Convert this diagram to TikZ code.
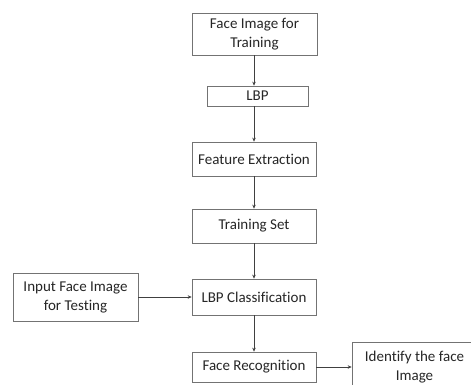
\documentclass[tikz,border=0pt]{standalone}
\usepackage{fontspec}
\setmainfont{Carlito}[Ligatures=NoCommon]
\usetikzlibrary{arrows.meta}
\begin{document}
\begin{tikzpicture}[x=1pt,y=-1pt,
  box/.style={draw=black!55,line width=0.7pt,fill=white,align=center,inner sep=1pt,text=black!85,font=\fontsize{15}{19}\selectfont},
  conn/.style={draw=black!75,line width=0.7pt,-{Stealth[length=4pt,width=3.5pt]}}]
\useasboundingbox (0,0) rectangle (471,385);
\clip (0,0) rectangle (471,385);
\fill[white] (0,0) rectangle (471,385);
\node[box,minimum width=125pt,minimum height=42pt] (train) at (254.5,34) {Face Image for\\Training};
\node[box,minimum width=101pt,minimum height=20pt] (lbp) at (257.5,96) {LBP};
\node[box,minimum width=124pt,minimum height=34pt] (fe) at (254,159) {Feature Extraction};
\node[box,minimum width=124pt,minimum height=34pt] (ts) at (254,226) {Training Set};
\node[box,minimum width=124pt,minimum height=36pt] (lbpc) at (254,297) {LBP Classification};
\node[box,minimum width=125pt,minimum height=48pt] (input) at (75.5,297) {Input Face Image\\for Testing};
\node[box,minimum width=124pt,minimum height=30pt] (fr) at (254,367) {Face Recognition};
\node[box,minimum width=125pt,minimum height=50pt] (id) at (414.5,367) {Identify the face\\Image};
\draw[conn] (train.south -| 254,0) -- (lbp.north -| 254,0);
\draw[conn] (lbp.south -| 254,0) -- (fe.north);
\draw[conn] (fe) -- (ts);
\draw[conn] (ts) -- (lbpc);
\draw[conn] (lbpc) -- (fr);
\draw[conn] (input) -- (lbpc);
\draw[conn] (fr) -- (id);
\end{tikzpicture}
\end{document}
